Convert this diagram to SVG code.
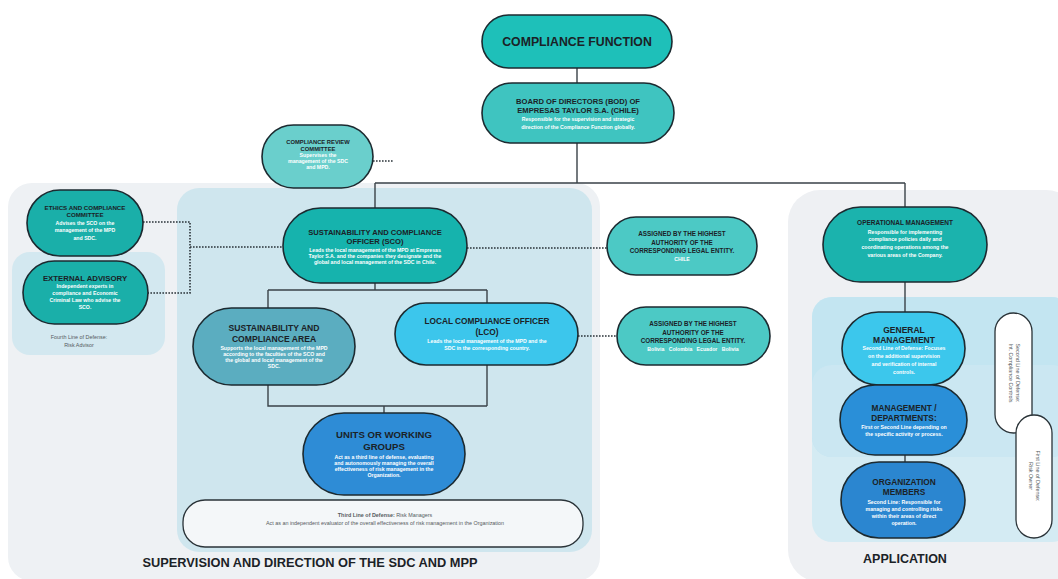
<svg xmlns="http://www.w3.org/2000/svg" width="1058" height="579" viewBox="0 0 1058 579">
<style>
.node{stroke:#1c2a30;stroke-width:1.6}
.t{font-family:"Liberation Sans",Arial,sans-serif;font-weight:700;fill:#1b2227;text-anchor:middle}
.b{font-family:"Liberation Sans",Arial,sans-serif;font-weight:700;fill:#ffffff;text-anchor:middle;font-size:5.2px}
.g{font-family:"Liberation Sans",Arial,sans-serif;fill:#555b60;text-anchor:middle;font-size:5.4px}
.ln{stroke:#3a4248;stroke-width:1.4;fill:none}
.dot{stroke:#2a3338;stroke-width:1.6;fill:none;stroke-dasharray:1.6 1.4}
</style>
<rect width="1058" height="579" fill="#ffffff"/>
<!-- panels -->
<rect x="8" y="183" width="592" height="398" rx="24" fill="#eef1f4"/>
<rect x="788" y="190" width="290" height="392" rx="32" fill="#eef0f3"/>
<rect x="177" y="188" width="415" height="364" rx="22" fill="#cfe6ee"/>
<rect x="12" y="252" width="153" height="103" rx="18" fill="#d3e8f0"/>
<rect x="812" y="297" width="260" height="245" rx="20" fill="#d4ebf3"/>
<rect x="812" y="297" width="260" height="160" rx="20" fill="#c3e5f1"/>
<rect x="812" y="365" width="260" height="92" rx="20" fill="#cbe7f2"/>

<!-- connectors -->
<g id="connectors">
<path class="ln" d="M577 68V83M577 143V183M375 183H905M375 183V208M905 183V207"/>
<path class="ln" d="M375 283V290M268 290H487M268 290V308M487 290V303"/>
<path class="ln" d="M268 385V406H487M487 365V406M384 406V413"/>
<path class="ln" d="M905 282V312M905 455V462"/>
<path class="dot" d="M373 161H394"/>
<path class="dot" d="M143 222H190V293H148M190 247H283"/>
<path class="dot" d="M467 248H607"/>
<path class="dot" d="M578 336H617"/>
</g>

<g id="compliance-function">
<rect class="node" x="482" y="15" width="190" height="53" rx="26.5" fill="#1ec0b9"/>
<text class="t" x="577" y="46" font-size="12.3">COMPLIANCE FUNCTION</text>
</g>
<g id="board">
<rect class="node" x="482" y="83" width="192" height="60" rx="30" fill="#3fc4c0"/>
<text class="t" x="578" y="104" font-size="7.6">BOARD OF DIRECTORS (BOD) OF</text>
<text class="t" x="578" y="113" font-size="7.6">EMPRESAS TAYLOR S.A. (CHILE)</text>
<text class="b" x="578" y="121">Responsible for the supervision and strategic</text>
<text class="b" x="578" y="129">direction of the Compliance Function globally.</text>
</g>
<g id="compliance-review-committee">
<rect class="node" x="262" y="125" width="111" height="63" rx="31.5" fill="#6acfcc"/>
<text class="t" x="318" y="144" font-size="5.8">COMPLIANCE REVIEW</text>
<text class="t" x="318" y="150.5" font-size="5.8">COMMITTEE</text>
<text class="b" x="318" y="157">Supervises the</text>
<text class="b" x="318" y="163">management of the SDC</text>
<text class="b" x="318" y="169">and MPD.</text>
</g>
<g id="ethics-committee">
<rect class="node" x="27" y="190" width="116" height="66" rx="33" fill="#1aafa9"/>
<text class="t" x="85" y="210" font-size="6.2">ETHICS AND COMPLIANCE</text>
<text class="t" x="85" y="217" font-size="6.2">COMMITTEE</text>
<text class="b" x="85" y="224.5">Advises the SCO on the</text>
<text class="b" x="85" y="232">management of the MPD</text>
<text class="b" x="85" y="239.5">and SDC.</text>
</g>
<g id="external-advisory">
<rect class="node" x="23" y="261" width="125" height="63" rx="31.5" fill="#1aafa9"/>
<text class="t" x="85" y="281" font-size="7.8">EXTERNAL ADVISORY</text>
<text class="b" x="85" y="288">Independent experts in</text>
<text class="b" x="85" y="295">compliance and Economic</text>
<text class="b" x="85" y="302">Criminal Law who advise the</text>
<text class="b" x="85" y="309">SCO.</text>
</g>
<text class="g" x="79" y="339">Fourth Line of Defense:</text>
<text class="g" x="79" y="347">Risk Advisor</text>

<g id="sco">
<rect class="node" x="283" y="208" width="184" height="75" rx="37.5" fill="#16b3ad"/>
<text class="t" x="375" y="235" font-size="7.6">SUSTAINABILITY AND COMPLIANCE</text>
<text class="t" x="375" y="244" font-size="7.6">OFFICER (SCO)</text>
<text class="b" x="375" y="252" font-size="4.6">Leads the local management of the MPD at Empresas</text>
<text class="b" x="375" y="258" font-size="4.6">Taylor S.A. and the companies they designate and the</text>
<text class="b" x="375" y="264" font-size="4.6">global and local management of the SDC in Chile.</text>
</g>
<g id="assigned-chile">
<rect class="node" x="607" y="217" width="150" height="58" rx="29" fill="#4cc9c5"/>
<text class="t" x="682" y="236" font-size="6.3">ASSIGNED BY THE HIGHEST</text>
<text class="t" x="682" y="244.5" font-size="6.3">AUTHORITY OF THE</text>
<text class="t" x="682" y="253" font-size="6.3">CORRESPONDING LEGAL ENTITY.</text>
<text class="b" x="682" y="260.5" font-size="4.6">CHILE</text>
</g>
<g id="assigned-countries">
<rect class="node" x="617" y="307" width="153" height="58" rx="29" fill="#4cc9c5"/>
<text class="t" x="693" y="326" font-size="6.3">ASSIGNED BY THE HIGHEST</text>
<text class="t" x="693" y="334.5" font-size="6.3">AUTHORITY OF THE</text>
<text class="t" x="693" y="343" font-size="6.3">CORRESPONDING LEGAL ENTITY.</text>
<text class="b" x="693" y="350.5" font-size="4.6" xml:space="preserve">Bolivia   Colombia   Ecuador   Bolivia</text>
</g>
<g id="sustainability-area">
<rect class="node" x="193" y="308" width="162" height="77" rx="38.5" fill="#5badc0"/>
<text class="t" x="274" y="331" font-size="8.6">SUSTAINABILITY AND</text>
<text class="t" x="274" y="342" font-size="8.6">COMPLIANCE AREA</text>
<text class="b" x="274" y="350" font-size="4.7">Supports the local management of the MPD</text>
<text class="b" x="274" y="356" font-size="4.7">according to the faculties of the SCO and</text>
<text class="b" x="274" y="362" font-size="4.7">the global and local management of the</text>
<text class="b" x="274" y="368" font-size="4.7">SDC.</text>
</g>
<g id="lco">
<rect class="node" x="395" y="303" width="183" height="62" rx="31" fill="#3cc6ec"/>
<text class="t" x="487" y="324" font-size="8.3">LOCAL COMPLIANCE OFFICER</text>
<text class="t" x="487" y="335" font-size="8.3">(LCO)</text>
<text class="b" x="487" y="343" font-size="4.7">Leads the local management of the MPD and the</text>
<text class="b" x="487" y="349.5" font-size="4.7">SDC in the corresponding country.</text>
</g>
<g id="units">
<rect class="node" x="303" y="413" width="162" height="82" rx="41" fill="#2e8cd6"/>
<text class="t" x="384" y="438" font-size="9.6">UNITS OR WORKING</text>
<text class="t" x="384" y="450" font-size="9.6">GROUPS</text>
<text class="b" x="384" y="459" font-size="4.8">Act as a third line of defense, evaluating</text>
<text class="b" x="384" y="465" font-size="4.8">and autonomously managing the overall</text>
<text class="b" x="384" y="471" font-size="4.8">effectiveness of risk management in the</text>
<text class="b" x="384" y="477" font-size="4.8">Organization.</text>
</g>
<g id="third-line">
<rect x="183" y="500" width="400" height="47" rx="22" fill="#f4f7f9" stroke="#2a3338" stroke-width="1.3"/>
<text class="g" x="385" y="517"><tspan font-weight="700">Third Line of Defense:</tspan> Risk Managers</text>
<text class="g" x="385" y="525">Act as an independent evaluator of the overall effectiveness of risk management in the Organization</text>
</g>
<text class="t" x="310" y="567" font-size="12.5" textLength="335" lengthAdjust="spacingAndGlyphs">SUPERVISION AND DIRECTION OF THE SDC AND MPP</text>

<g id="operational-management">
<rect class="node" x="823" y="207" width="164" height="75" rx="37.5" fill="#1bb3ad"/>
<text class="t" x="905" y="225" font-size="6.5">OPERATIONAL MANAGEMENT</text>
<text class="b" x="905" y="233.5">Responsible for implementing</text>
<text class="b" x="905" y="241">compliance policies daily and</text>
<text class="b" x="905" y="249">coordinating operations among the</text>
<text class="b" x="905" y="257">various areas of the Company.</text>
</g>
<g id="general-management">
<rect class="node" x="842" y="312" width="123" height="73" rx="36.5" fill="#3cc7ec"/>
<text class="t" x="904" y="333" font-size="8.5">GENERAL</text>
<text class="t" x="904" y="343" font-size="8.5">MANAGEMENT</text>
<text class="b" x="904" y="350" font-size="4.8">Second Line of Defense: Focuses</text>
<text class="b" x="904" y="358" font-size="4.8">on the additional supervision</text>
<text class="b" x="904" y="366" font-size="4.8">and verification of internal</text>
<text class="b" x="904" y="374" font-size="4.8">controls.</text>
</g>
<g id="management-departments">
<rect class="node" x="840" y="385" width="127" height="70" rx="35" fill="#2a8fd8"/>
<text class="t" x="904" y="411" font-size="8.3">MANAGEMENT /</text>
<text class="t" x="904" y="421" font-size="8.3">DEPARTMENTS:</text>
<text class="b" x="904" y="429" font-size="4.8">First or Second Line depending on</text>
<text class="b" x="904" y="436" font-size="4.8">the specific activity or process.</text>
</g>
<g id="organization-members">
<rect class="node" x="841" y="462" width="124" height="76" rx="38" fill="#2b86d0"/>
<text class="t" x="904" y="485" font-size="8.3">ORGANIZATION</text>
<text class="t" x="904" y="495" font-size="8.3">MEMBERS</text>
<text class="b" x="904" y="503.5" font-size="4.8">Second Line: Responsible for</text>
<text class="b" x="904" y="510.5" font-size="4.8">managing and controlling risks</text>
<text class="b" x="904" y="517.5" font-size="4.8">within their areas of direct</text>
<text class="b" x="904" y="524.5" font-size="4.8">operation.</text>
</g>
<g id="second-line-pill">
<rect x="995" y="313" width="37" height="120" rx="18.5" fill="#ffffff" stroke="#2a3338" stroke-width="1.3"/>
<g transform="translate(1013.5 373) rotate(90)">
<text class="g" x="0" y="-2" font-size="4.8">Second Line of Defense:</text>
<text class="g" x="0" y="5" font-size="4.8">Int. Compliance Controls</text>
</g>
</g>
<g id="first-line-pill">
<rect x="1016" y="415" width="36" height="123" rx="18" fill="#ffffff" stroke="#2a3338" stroke-width="1.3"/>
<g transform="translate(1034 476) rotate(90)">
<text class="g" x="0" y="-2" font-size="4.8">First Line of Defense:</text>
<text class="g" x="0" y="5" font-size="4.8">Risk Owner</text>
</g>
</g>
<text class="t" x="905" y="563" font-size="12.5">APPLICATION</text>
</svg>
